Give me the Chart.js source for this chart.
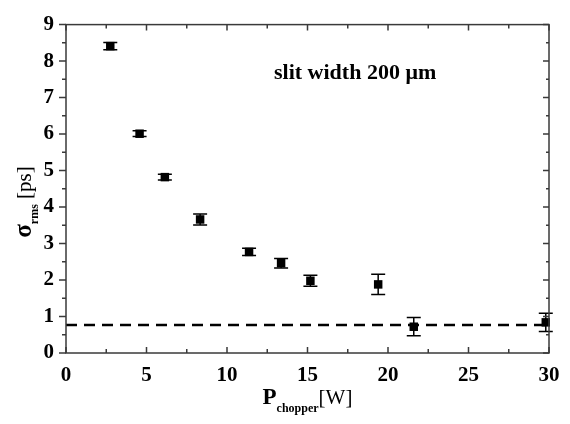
<!DOCTYPE html>
<html>
<head>
<meta charset="utf-8">
<script src="https://cdn.jsdelivr.net/npm/chart.js@4"></script>
<style>
  html, body { margin: 0; padding: 0; background: #fff; }
  #wrap { width: 570px; height: 424px; }
</style>
</head>
<body>
<div id="wrap"><canvas id="chart" width="570" height="424"></canvas></div>
<script>
// measured points (P_chopper in W, sigma_rms in ps)
const power = [2.75, 4.57, 6.14, 8.33, 11.37, 13.36, 15.18, 19.39, 21.6, 29.8];
const sigma = [8.41, 6.01, 4.82, 3.66, 2.77, 2.46, 1.98, 1.88, 0.72, 0.84];
const sigmaErr = [0.1, 0.08, 0.08, 0.15, 0.1, 0.13, 0.15, 0.28, 0.25, 0.25];
const limitLevel = 0.77;
const xTicks = [0, 5, 10, 15, 20, 25, 30];
const yTicks = [0, 1, 2, 3, 4, 5, 6, 7, 8, 9];

const SERIF = '"Liberation Serif", "DejaVu Serif", serif';
const AXIS_COLOR = '#3a3a3a';

// error bars drawn through the scales
const errorBars = {
  id: 'errorBars',
  afterDatasetsDraw(chart) {
    const { ctx, scales: { x, y } } = chart;
    ctx.save();
    ctx.strokeStyle = '#000';
    ctx.lineWidth = 1.5;
    power.forEach((p, i) => {
      const px = x.getPixelForValue(p);
      const top = y.getPixelForValue(sigma[i] + sigmaErr[i]);
      const bot = y.getPixelForValue(sigma[i] - sigmaErr[i]);
      ctx.beginPath();
      ctx.moveTo(px, top); ctx.lineTo(px, bot);
      ctx.moveTo(px - 7, top); ctx.lineTo(px + 7, top);
      ctx.moveTo(px - 7, bot); ctx.lineTo(px + 7, bot);
      ctx.stroke();
    });
    ctx.restore();
  }
};

// frame, tick marks and titles
const frame = {
  id: 'frame',
  afterDraw(chart) {
    const { ctx, chartArea: a, scales: { x, y } } = chart;
    ctx.save();
    ctx.strokeStyle = AXIS_COLOR;
    ctx.lineWidth = 1.5;
    ctx.strokeRect(a.left, a.top, a.right - a.left, a.bottom - a.top);

    ctx.beginPath();
    for (let v = 0; v <= 30; v += 2.5) {
      const px = x.getPixelForValue(v);
      const len = v % 5 === 0 ? 6 : 4;
      ctx.moveTo(px, a.bottom); ctx.lineTo(px, a.bottom - len);
      ctx.moveTo(px, a.top); ctx.lineTo(px, a.top + len);
    }
    for (let v = 0; v <= 9; v += 0.5) {
      const py = y.getPixelForValue(v);
      const len = v % 1 === 0 ? 7 : 4;
      ctx.moveTo(a.left, py); ctx.lineTo(a.left - len, py);
      ctx.moveTo(a.right, py); ctx.lineTo(a.right - (len - 1), py);
    }
    ctx.stroke();

    ctx.fillStyle = '#000';
    ctx.textBaseline = 'alphabetic';

    // annotation
    ctx.font = 'bold 22px ' + SERIF;
    ctx.textAlign = 'left';
    ctx.fillText('slit width 200 \u03bcm', 274, 79);

    // x title: P_chopper[W]
    const cx = (a.left + a.right) / 2;
    const parts = [
      { t: 'P', f: 'bold 23px ' + SERIF, dy: 0 },
      { t: 'chopper', f: 'bold 12px ' + SERIF, dy: 8 },
      { t: '[W]', f: '21px ' + SERIF, dy: 0 }
    ];
    let total = 0;
    parts.forEach(p => { ctx.font = p.f; p.w = ctx.measureText(p.t).width; total += p.w; });
    let xx = cx - total / 2;
    parts.forEach(p => { ctx.font = p.f; ctx.fillText(p.t, xx, 404 + p.dy); xx += p.w; });

    // y title: sigma_rms [ps], rotated
    ctx.translate(31, 202);
    ctx.rotate(-Math.PI / 2);
    const yparts = [
      { t: '\u03c3', f: 'bold 25px ' + SERIF, dy: 0 },
      { t: 'rms', f: 'bold 12px ' + SERIF, dy: 7 },
      { t: ' [ps]', f: '21px ' + SERIF, dy: 0 }
    ];
    total = 0;
    yparts.forEach(p => { ctx.font = p.f; p.w = ctx.measureText(p.t).width; total += p.w; });
    xx = -total / 2;
    yparts.forEach(p => { ctx.font = p.f; ctx.fillText(p.t, xx, p.dy); xx += p.w; });
    ctx.restore();
  }
};

const ctx = document.getElementById('chart').getContext('2d');
new Chart(ctx, {
  type: 'scatter',
  data: {
    datasets: [
      {
        label: 'sigma',
        data: power.map((p, i) => ({ x: p, y: sigma[i] })),
        pointStyle: 'rect',
        pointRadius: 6,
        backgroundColor: '#000',
        borderColor: '#000',
        borderWidth: 0,
        clip: false
      },
      {
        label: 'limit',
        type: 'line',
        data: [{ x: 0, y: limitLevel }, { x: 30, y: limitLevel }],
        borderColor: '#000',
        borderWidth: 2.5,
        borderDash: [11, 7],
        pointRadius: 0,
        fill: false
      }
    ]
  },
  options: {
    responsive: false,
    animation: false,
    layout: { padding: { left: 0, right: 21, top: 16, bottom: 0 } },
    plugins: { legend: { display: false }, tooltip: { enabled: false } },
    scales: {
      x: {
        type: 'linear',
        min: 0, max: 30,
        grid: { display: false, drawTicks: false },
        border: { display: false },
        afterBuildTicks: s => { s.ticks = xTicks.map(v => ({ value: v })); },
        afterFit: s => { s.height = 71; },
        ticks: { color: '#000', padding: 10, font: { family: SERIF, size: 21, weight: 'bold' } }
      },
      y: {
        type: 'linear',
        min: 0, max: 9,
        grid: { display: false, drawTicks: false },
        border: { display: false },
        afterBuildTicks: s => { s.ticks = yTicks.map(v => ({ value: v })); },
        afterFit: s => { s.width = 66; },
        ticks: { color: '#000', padding: 12, font: { family: SERIF, size: 21, weight: 'bold' } }
      }
    }
  },
  plugins: [errorBars, frame]
});
</script>
</body>
</html>
